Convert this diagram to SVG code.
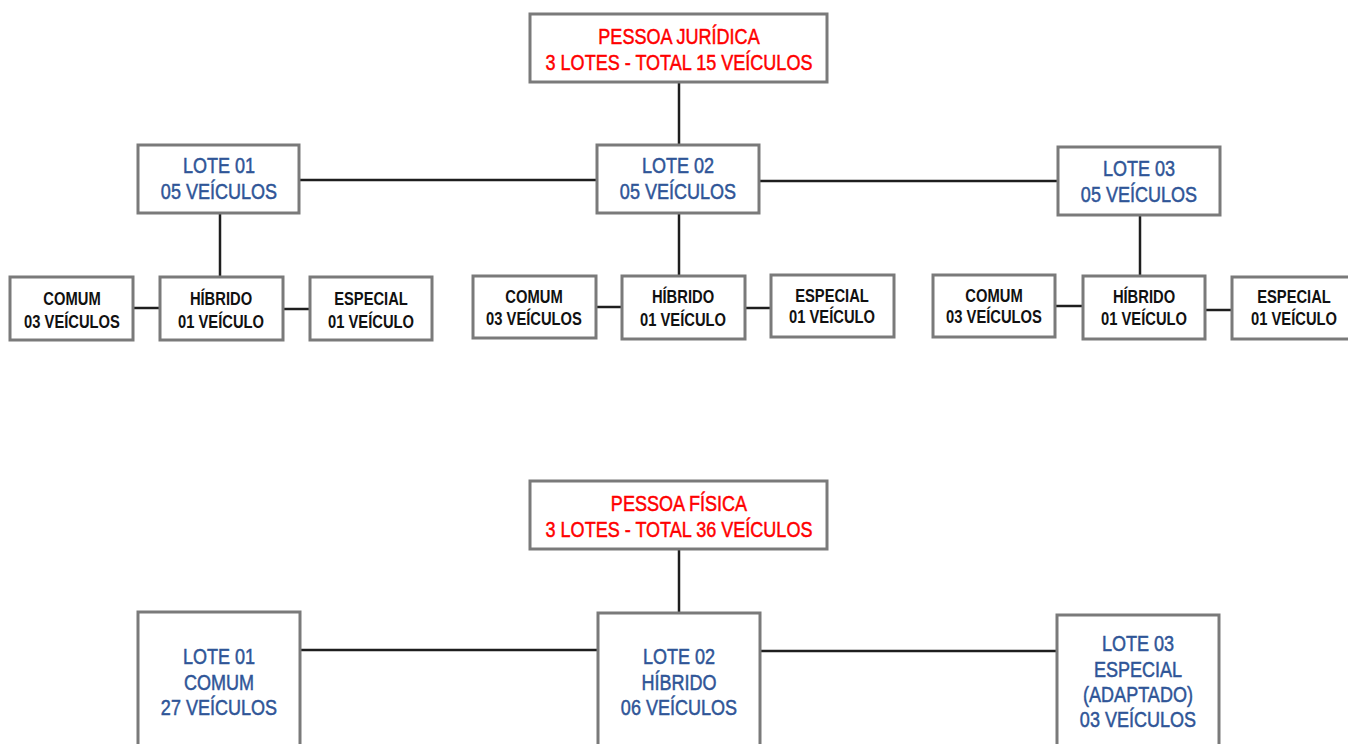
<svg xmlns="http://www.w3.org/2000/svg" width="1348" height="744" viewBox="0 0 1348 744">
<style>
.box{fill:#fff;stroke:#7a7a7a;stroke-width:3}
.con{stroke:#1e1e1e;stroke-width:2.5;fill:none}
text{font-family:"Liberation Sans","Arial",sans-serif;text-anchor:middle}
.red{fill:#ff0000;stroke:#ff0000;stroke-width:0.5;font-size:22px}
.blue{fill:#2f5597;stroke:#2f5597;stroke-width:0.5;font-size:22px}
.blk{fill:#111;font-size:18px;font-weight:bold}
</style>
<rect width="1348" height="744" fill="#fff"/>
<g id="connectors">
<path class="con" d="M679 82V146"/>
<path class="con" d="M299 180H597"/>
<path class="con" d="M759 181H1058"/>
<path class="con" d="M220 213V277"/>
<path class="con" d="M679 213V276"/>
<path class="con" d="M1140 215V276"/>
<path class="con" d="M133 308H160"/>
<path class="con" d="M283 309H310"/>
<path class="con" d="M596 307H622"/>
<path class="con" d="M745 308H771"/>
<path class="con" d="M1055 306H1083"/>
<path class="con" d="M1205 310H1232"/>
<path class="con" d="M679 549V613"/>
<path class="con" d="M300 650H598"/>
<path class="con" d="M760 651H1057"/>
</g>
<g id="pj">
<rect class="box" x="530" y="14" width="297" height="68"/>
<text class="red" transform="translate(679,44) scale(0.82,1)">PESSOA JURÍDICA</text>
<text class="red" transform="translate(679,70) scale(0.82,1)">3 LOTES - TOTAL 15 VEÍCULOS</text>
</g>
<g id="pj-lote01">
<rect class="box" x="138" y="145" width="161" height="68"/>
<text class="blue" transform="translate(219,173) scale(0.82,1)">LOTE 01</text>
<text class="blue" transform="translate(219,199) scale(0.82,1)">05 VEÍCULOS</text>
</g>
<g id="pj-lote02">
<rect class="box" x="597" y="145" width="162" height="68"/>
<text class="blue" transform="translate(678,173) scale(0.82,1)">LOTE 02</text>
<text class="blue" transform="translate(678,199) scale(0.82,1)">05 VEÍCULOS</text>
</g>
<g id="pj-lote03">
<rect class="box" x="1058" y="147" width="162" height="68"/>
<text class="blue" transform="translate(1139,176) scale(0.82,1)">LOTE 03</text>
<text class="blue" transform="translate(1139,202) scale(0.82,1)">05 VEÍCULOS</text>
</g>
<g id="l1-comum">
<rect class="box" x="10" y="277" width="123" height="63"/>
<text class="blk" transform="translate(72,305) scale(0.82,1)">COMUM</text>
<text class="blk" transform="translate(72,328) scale(0.82,1)">03 VEÍCULOS</text>
</g>
<g id="l1-hibrido">
<rect class="box" x="160" y="277" width="123" height="63"/>
<text class="blk" transform="translate(221,305) scale(0.82,1)">HÍBRIDO</text>
<text class="blk" transform="translate(221,328) scale(0.82,1)">01 VEÍCULO</text>
</g>
<g id="l1-especial">
<rect class="box" x="310" y="277" width="122" height="63"/>
<text class="blk" transform="translate(371,305) scale(0.82,1)">ESPECIAL</text>
<text class="blk" transform="translate(371,328) scale(0.82,1)">01 VEÍCULO</text>
</g>
<g id="l2-comum">
<rect class="box" x="473" y="276" width="123" height="62"/>
<text class="blk" transform="translate(534,303) scale(0.82,1)">COMUM</text>
<text class="blk" transform="translate(534,325) scale(0.82,1)">03 VEÍCULOS</text>
</g>
<g id="l2-hibrido">
<rect class="box" x="622" y="276" width="123" height="63"/>
<text class="blk" transform="translate(683,303) scale(0.82,1)">HÍBRIDO</text>
<text class="blk" transform="translate(683,326) scale(0.82,1)">01 VEÍCULO</text>
</g>
<g id="l2-especial">
<rect class="box" x="771" y="275" width="123" height="62"/>
<text class="blk" transform="translate(832,302) scale(0.82,1)">ESPECIAL</text>
<text class="blk" transform="translate(832,323) scale(0.82,1)">01 VEÍCULO</text>
</g>
<g id="l3-comum">
<rect class="box" x="933" y="275" width="122" height="62"/>
<text class="blk" transform="translate(994,302) scale(0.82,1)">COMUM</text>
<text class="blk" transform="translate(994,323) scale(0.82,1)">03 VEÍCULOS</text>
</g>
<g id="l3-hibrido">
<rect class="box" x="1083" y="276" width="122" height="63"/>
<text class="blk" transform="translate(1144,303) scale(0.82,1)">HÍBRIDO</text>
<text class="blk" transform="translate(1144,325) scale(0.82,1)">01 VEÍCULO</text>
</g>
<g id="l3-especial">
<rect class="box" x="1232" y="277" width="122" height="62"/>
<text class="blk" transform="translate(1294,303) scale(0.82,1)">ESPECIAL</text>
<text class="blk" transform="translate(1294,325) scale(0.82,1)">01 VEÍCULO</text>
</g>
<g id="pf">
<rect class="box" x="530" y="481" width="297" height="68"/>
<text class="red" transform="translate(679,511) scale(0.82,1)">PESSOA FÍSICA</text>
<text class="red" transform="translate(679,537) scale(0.82,1)">3 LOTES - TOTAL 36 VEÍCULOS</text>
</g>
<g id="pf-lote01">
<rect class="box" x="138" y="612" width="162" height="150"/>
<text class="blue" transform="translate(219,664) scale(0.82,1)">LOTE 01</text>
<text class="blue" transform="translate(219,690) scale(0.82,1)">COMUM</text>
<text class="blue" transform="translate(219,715) scale(0.82,1)">27 VEÍCULOS</text>
</g>
<g id="pf-lote02">
<rect class="box" x="598" y="613" width="162" height="150"/>
<text class="blue" transform="translate(679,664) scale(0.82,1)">LOTE 02</text>
<text class="blue" transform="translate(679,690) scale(0.82,1)">HÍBRIDO</text>
<text class="blue" transform="translate(679,715) scale(0.82,1)">06 VEÍCULOS</text>
</g>
<g id="pf-lote03">
<rect class="box" x="1057" y="615" width="162" height="150"/>
<text class="blue" transform="translate(1138,651) scale(0.82,1)">LOTE 03</text>
<text class="blue" transform="translate(1138,677) scale(0.82,1)">ESPECIAL</text>
<text class="blue" transform="translate(1138,702) scale(0.82,1)">(ADAPTADO)</text>
<text class="blue" transform="translate(1138,727) scale(0.82,1)">03 VEÍCULOS</text>
</g>
</svg>
